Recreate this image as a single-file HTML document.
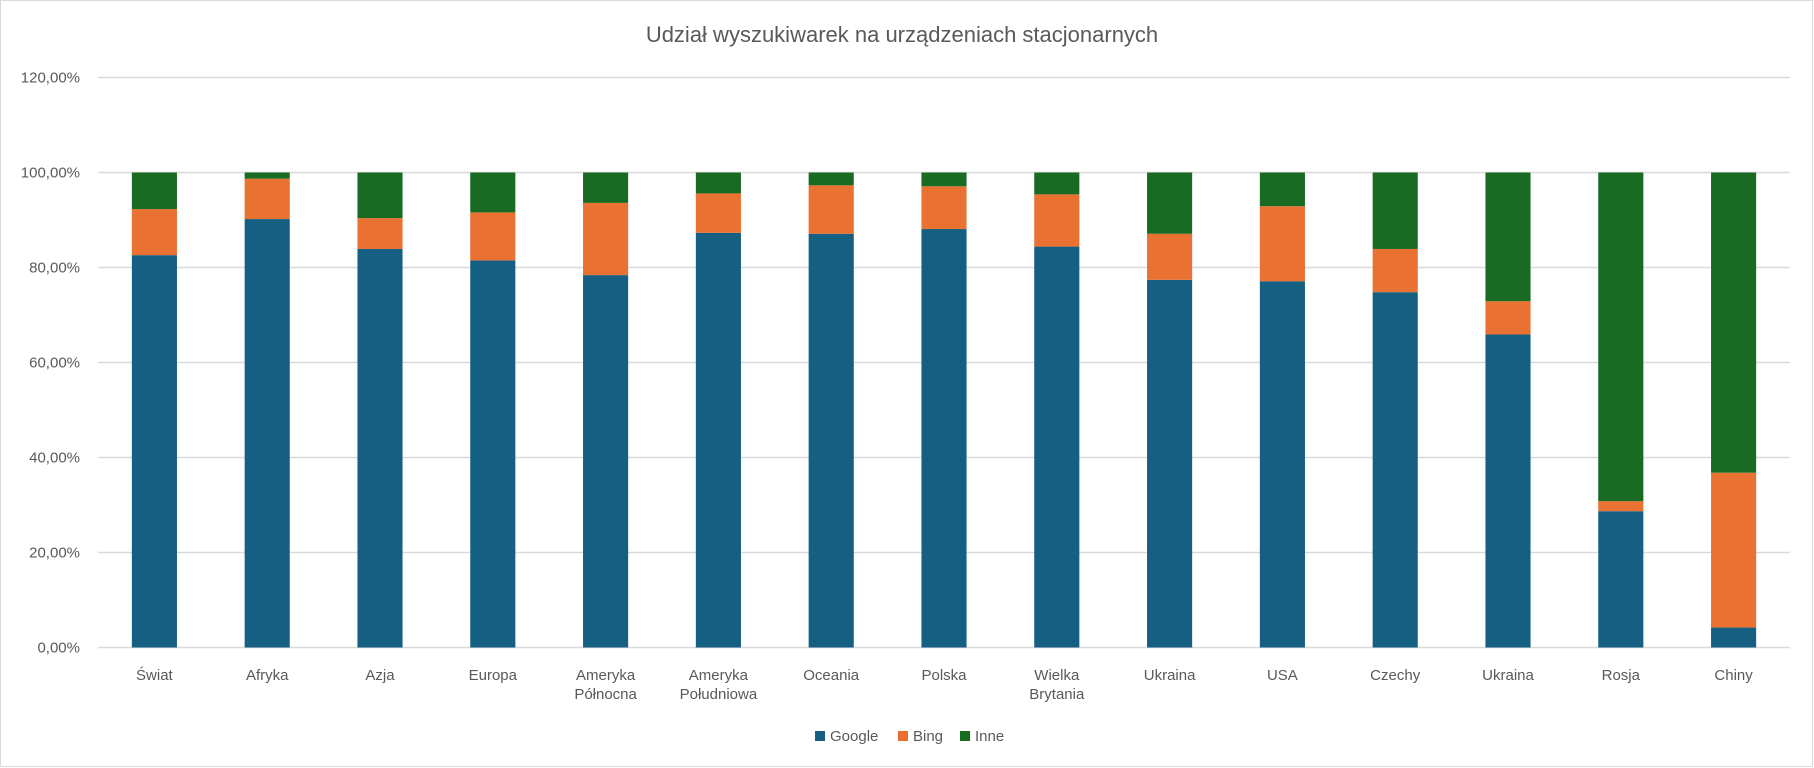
<!DOCTYPE html>
<html><head><meta charset="utf-8"><style>
body{margin:0;background:#fff;}
svg{display:block;font-family:"Liberation Sans",sans-serif;}
</style></head><body>
<svg id="chart" width="1814" height="768" viewBox="0 0 1814 768">
<rect x="0.5" y="0.5" width="1812" height="766" fill="#fff" stroke="#d9d9d9"/>
<text x="902" y="42" text-anchor="middle" font-size="22" fill="#595959">Udział wyszukiwarek na urządzeniach stacjonarnych</text>
<g id="grid"></g><g id="bars"></g><g id="xlabels"></g><g id="ylabels"></g>
<g>
<rect x="815" y="731" width="10" height="10" fill="#156082"/>
<text x="830" y="741" font-size="15" fill="#595959">Google</text>
<rect x="898" y="731" width="10" height="10" fill="#E97132"/>
<text x="913" y="741" font-size="15" fill="#595959">Bing</text>
<rect x="960" y="731" width="10" height="10" fill="#196B24"/>
<text x="975" y="741" font-size="15" fill="#595959">Inne</text>
</g>
</svg>
<script>
const categories=[["Świat"],["Afryka"],["Azja"],["Europa"],["Ameryka","Północna"],["Ameryka","Południowa"],["Oceania"],["Polska"],["Wielka","Brytania"],["Ukraina"],["USA"],["Czechy"],["Ukraina"],["Rosja"],["Chiny"]];
const google=[82.6,90.2,83.9,81.5,78.4,87.3,87.1,88.1,84.4,77.4,77.1,74.8,65.9,28.7,4.2];
const bing=[9.7,8.5,6.5,10.1,15.2,8.3,10.2,9.0,11.0,9.7,15.8,9.1,7.0,2.1,32.6];
const inne=[7.7,1.3,9.6,8.4,6.4,4.4,2.7,2.9,4.6,12.9,7.1,16.1,27.1,69.2,63.2];
const yTicks=[0,20,40,60,80,100,120];
const yTickLabels=["0,00%","20,00%","40,00%","60,00%","80,00%","100,00%","120,00%"];
const NS="http://www.w3.org/2000/svg";
const L=98,R=1790,Y0=647.5,YT=77.5,YMAX=120;
const y=v=>Y0-(v/YMAX)*(Y0-YT);
const band=(R-L)/categories.length;
const xc=i=>L+band*(i+0.5);
const bw=band*0.4;
function mk(tag,parent,attrs){const e=document.createElementNS(NS,tag);for(const k in attrs)e.setAttribute(k,attrs[k]);parent.appendChild(e);return e;}
const grid=document.getElementById('grid'),bars=document.getElementById('bars'),xl=document.getElementById('xlabels'),yl=document.getElementById('ylabels');
yTicks.forEach((t,i)=>{
 const ln=mk('line',grid,{x1:L,x2:R,y1:y(t),y2:y(t),stroke:'#d9d9d9','stroke-width':1.5});
 
 
 const tx=mk('text',yl,{x:80,y:y(t)+5,'text-anchor':'end','font-size':15,fill:'#595959'});
 tx.textContent=yTickLabels[i];
 
 
});
const series=[[google,'#156082','google'],[bing,'#E97132','bing'],[inne,'#196B24','inne']];
categories.forEach((c,i)=>{
 let base=0;
 series.forEach(([arr,col,nm])=>{
  const v=arr[i];
  const r=mk('rect',bars,{x:xc(i)-bw/2,y:y(base+v),width:bw,height:y(base)-y(base+v),fill:col});
  
  
  base+=v;
 });
 c.forEach((line,j)=>{
  const t=mk('text',xl,{x:xc(i),y:680+j*19,'text-anchor':'middle','font-size':15,fill:'#595959'});
  t.textContent=line;
  
  
 });
});
</script>
</body></html>
